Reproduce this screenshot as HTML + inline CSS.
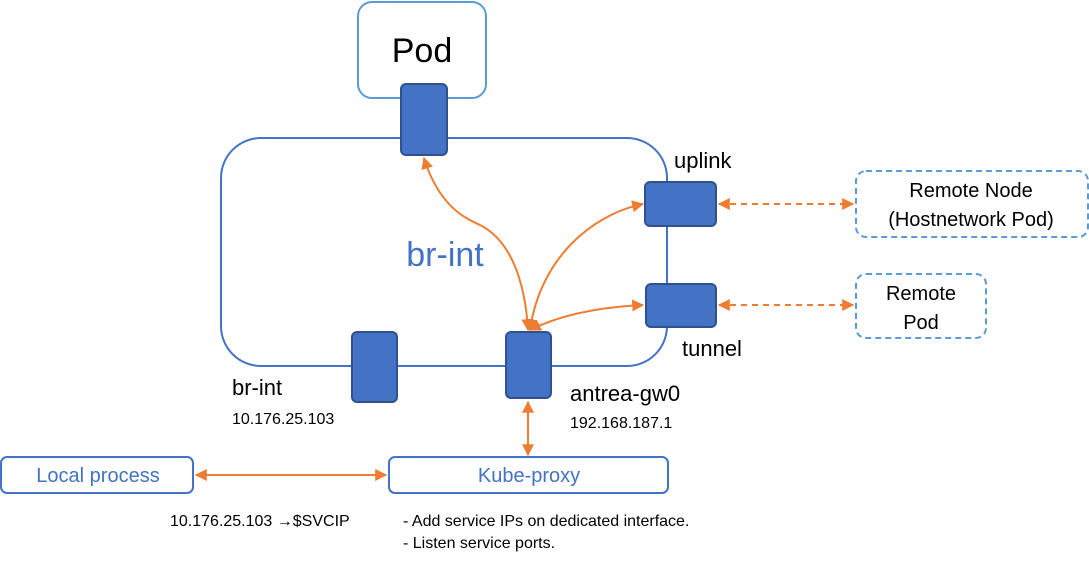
<!DOCTYPE html>
<html><head><style>
body{margin:0;background:#fff}
svg text{font-family:"Liberation Sans","Noto Sans CJK SC",sans-serif}
</style></head><body>
<svg width="1089" height="563" viewBox="0 0 1089 563" xmlns="http://www.w3.org/2000/svg">
<defs>
<marker id="a" viewBox="0 0 10 10" refX="9" refY="5" markerWidth="6" markerHeight="6" orient="auto-start-reverse"><path d="M0,0 L10,5 L0,10 z" fill="#ed7d31"/></marker>
</defs>
<rect x="358" y="2" width="128" height="96" rx="14" fill="#fff" stroke="#5b9bd5" stroke-width="2"/>
<text x="422" y="62" font-size="34" text-anchor="middle" fill="#000">Pod</text>
<rect x="221" y="138" width="446" height="228" rx="40" fill="none" stroke="#4472c4" stroke-width="2"/>
<text x="445" y="266" font-size="34" text-anchor="middle" fill="#4472c4">br-int</text>
<g fill="#4472c4" stroke="#2f528f" stroke-width="2">
<rect x="401" y="84" width="46" height="71" rx="5"/>
<rect x="645" y="182" width="71" height="44" rx="5"/>
<rect x="646" y="284" width="70" height="43" rx="5"/>
<rect x="352" y="332" width="45" height="70" rx="5"/>
<rect x="506" y="332" width="45" height="66" rx="5"/>
</g>
<text x="674" y="168" font-size="22">uplink</text>
<text x="682" y="356" font-size="22">tunnel</text>
<text x="232" y="395" font-size="22">br-int</text>
<text x="232" y="424" font-size="16">10.176.25.103</text>
<text x="570" y="401" font-size="22">antrea-gw0</text>
<text x="570" y="428" font-size="16">192.168.187.1</text>
<g fill="none" stroke="#ed7d31" stroke-width="2">
<path d="M424,158 C440,210 470,220 480,225 C510,240 525,280 528,330" marker-start="url(#a)" marker-end="url(#a)"/>
<path d="M530,330 C540,260 590,215 643,204" marker-start="url(#a)" marker-end="url(#a)"/>
<path d="M530,330 C560,315 600,307 643,305" marker-start="url(#a)" marker-end="url(#a)"/>
<path d="M719,204 L853,204" stroke-dasharray="6,5" marker-start="url(#a)" marker-end="url(#a)"/>
<path d="M719,305 L853,305" stroke-dasharray="6,5" marker-start="url(#a)" marker-end="url(#a)"/>
<path d="M528,402 L528,455" marker-start="url(#a)" marker-end="url(#a)"/>
<path d="M196,475 L386,475" marker-start="url(#a)" marker-end="url(#a)"/>
</g>
<rect x="856" y="171" width="232" height="66" rx="10" fill="none" stroke="#5b9bd5" stroke-width="2" stroke-dasharray="6,4"/>
<text x="971" y="197" font-size="20" text-anchor="middle">Remote Node</text>
<text x="971" y="226" font-size="20" text-anchor="middle">(Hostnetwork Pod)</text>
<rect x="856" y="274" width="130" height="64" rx="10" fill="none" stroke="#5b9bd5" stroke-width="2" stroke-dasharray="6,4"/>
<text x="921" y="300" font-size="20" text-anchor="middle">Remote</text>
<text x="921" y="329" font-size="20" text-anchor="middle">Pod</text>
<rect x="1" y="457" width="192" height="36" rx="6" fill="none" stroke="#4472c4" stroke-width="2"/>
<text x="98" y="482" font-size="20" text-anchor="middle" fill="#4472c4">Local process</text>
<rect x="389" y="457" width="279" height="36" rx="6" fill="none" stroke="#4472c4" stroke-width="2"/>
<text x="529" y="482" font-size="20" text-anchor="middle" fill="#4472c4">Kube-proxy</text>
<text x="170" y="526" font-size="16">10.176.25.103 →$SVCIP</text>
<text x="403" y="526" font-size="16">- Add service IPs on dedicated interface.</text>
<text x="403" y="548" font-size="16">- Listen service ports.</text>
</svg>
</body></html>
